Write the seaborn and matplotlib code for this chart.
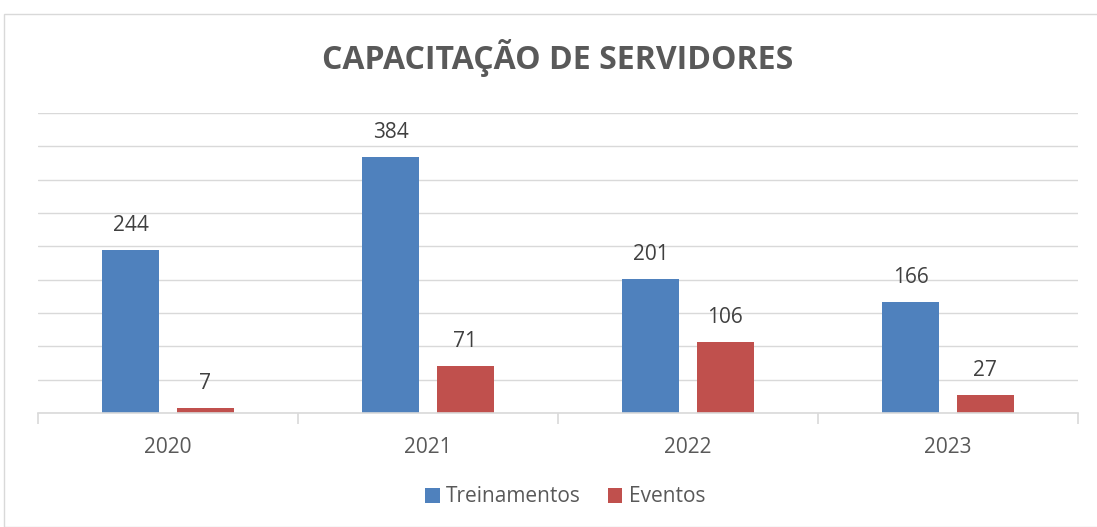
import matplotlib.pyplot as plt
import seaborn as sns
import pandas as pd
from matplotlib.patches import Rectangle

# dados
anos = ['2020', '2021', '2022', '2023']
treinamentos = [244, 384, 201, 166]
eventos = [7, 71, 106, 27]
series = ['Treinamentos', 'Eventos']
cores = ['#4f81bd', '#c0504d']

df = pd.DataFrame({
    'ano': anos * 2,
    'valor': treinamentos + eventos,
    'tipo': [series[0]] * 4 + [series[1]] * 4,
})

sns.set_style('white')
plt.rcParams['font.family'] = ['Open Sans', 'DejaVu Sans']

fig = plt.figure(figsize=(10.97, 5.27), dpi=100)
ax = fig.add_axes([38 / 1097, 1 - 413 / 527, 1040 / 1097, 300 / 527])

sns.barplot(data=df, x='ano', y='valor', hue='tipo', palette=cores,
            width=0.57, gap=0.23, saturation=1, ax=ax, legend=True,
            edgecolor='none')

for c in ax.containers:
    ax.bar_label(c, padding=10, fontsize=15, color='#404040')

ax.set_ylim(0, 450)
ax.set_xlim(-0.5, 3.5)
ax.set_yticks(range(0, 451, 50))
ax.yaxis.grid(True, color='#d9d9d9', lw=1)
ax.set_axisbelow(True)
ax.set_yticklabels([])
ax.tick_params(axis='y', length=0)
for s in ['top', 'right', 'left']:
    ax.spines[s].set_visible(False)
ax.spines['bottom'].set_color('#d9d9d9')
ax.spines['bottom'].set_linewidth(1.2)

ax.set_xticks([-0.5, 0.5, 1.5, 2.5, 3.5], minor=True)
ax.tick_params(axis='x', which='minor', bottom=True, direction='out',
               length=8, color='#d9d9d9', width=1.2)
ax.tick_params(axis='x', which='major', length=0, labelsize=15,
               labelcolor='#595959', pad=17)
ax.set_xlabel('')
ax.set_ylabel('')

ax.legend(loc='center', bbox_to_anchor=(565 / 1097, 1 - 497 / 527),
          bbox_transform=fig.transFigure, ncol=2, frameon=False,
          fontsize=15, labelcolor='#595959', handlelength=0.7,
          handleheight=0.7, handletextpad=0.3, columnspacing=1.3)

fig.text(558 / 1097, 1 - 58 / 527, 'CAPACITAÇÃO DE SERVIDORES', ha='center',
         va='center', fontsize=23, fontweight='bold', color='#595959')

fig.patches.append(Rectangle((4 / 1097, 0), 1.1, 1 - 14 / 527,
                             transform=fig.transFigure, fill=False,
                             edgecolor='#d9d9d9', lw=1))

fig.savefig('out.png', dpi=100)
